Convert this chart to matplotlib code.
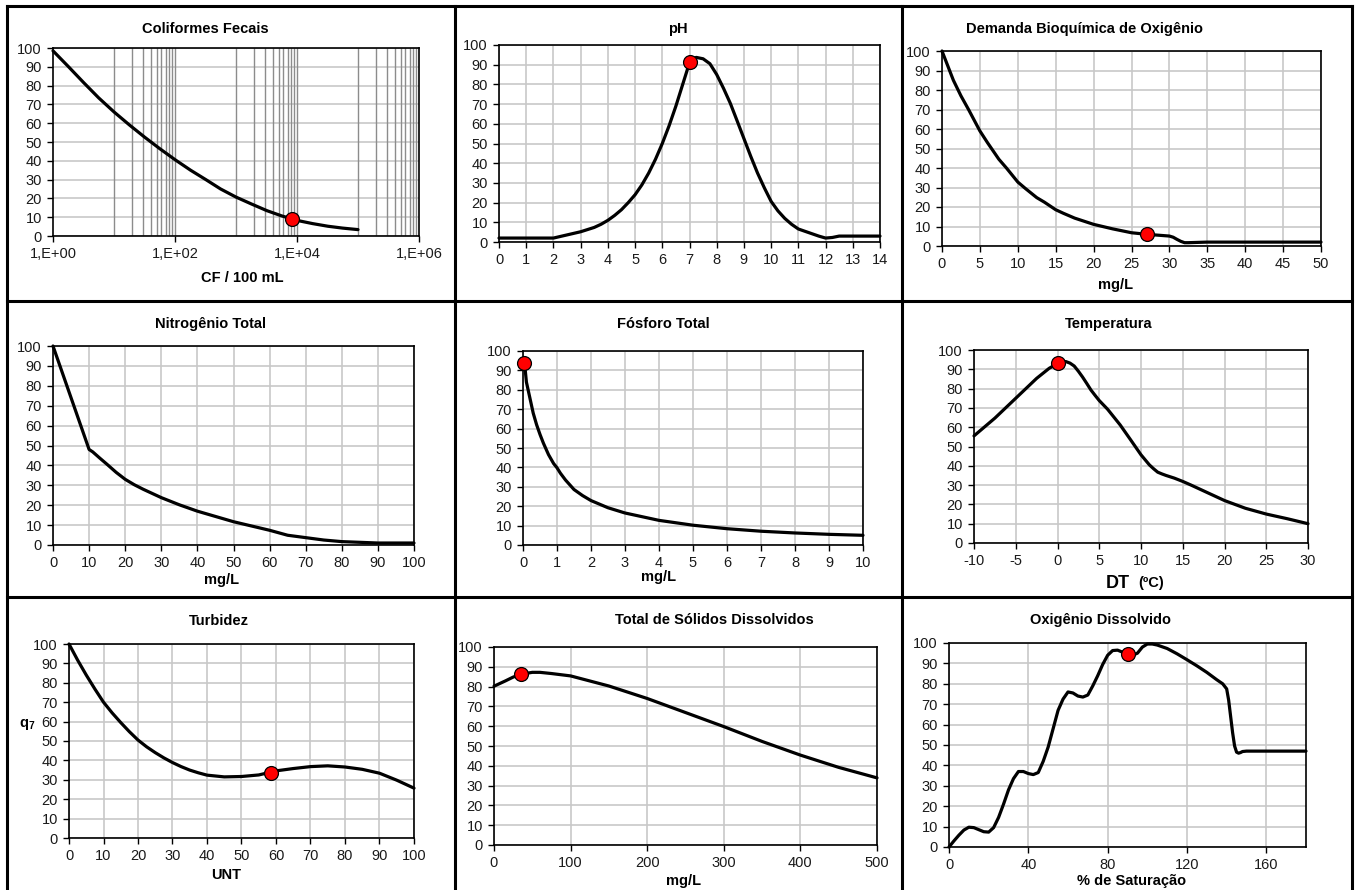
import matplotlib
matplotlib.use("Agg")
import matplotlib.pyplot as plt
from matplotlib.lines import Line2D

plt.rcParams["font.family"] = ["Liberation Sans", "DejaVu Sans"]
plt.rcParams["mathtext.fontset"] = "custom"
plt.rcParams["mathtext.rm"] = "Liberation Sans"
plt.rcParams["mathtext.bf"] = "Liberation Sans:bold"
plt.rcParams["axes.unicode_minus"] = False

W, H = 1357, 890

# ---------------------------------------------------------------------------
# data
# ---------------------------------------------------------------------------
cf_x = [1, 1.8, 3.2, 5.6, 10, 18, 32, 56, 100, 180, 320, 560, 1000, 1800, 3200, 5600,
        1e4, 1.8e4, 3.2e4, 5.6e4, 1e5]
cf_q = [98.5, 90, 81.5, 73.5, 66, 59, 52.5, 46.5, 40.6, 35, 30, 25, 20.7, 17, 13.5, 10.7,
        8.3, 6.6, 5.2, 4.2, 3.4]
cf_pt = (8300, 8.9)

ph_x = [0, 1, 2, 2.5, 3, 3.5, 3.75, 4, 4.25, 4.5, 4.75, 5, 5.25, 5.5, 5.75, 6, 6.25, 6.5,
        6.75, 7, 7.1, 7.25, 7.5, 7.75, 8, 8.25, 8.5, 8.75, 9, 9.25, 9.5, 9.75, 10, 10.25,
        10.5, 10.75, 11, 11.5, 11.75, 12, 12.25, 12.5, 13, 14]
ph_q = [2, 2, 2, 3.6, 5.2, 7.4, 9, 11, 13.5, 16.4, 20, 24, 29, 35, 42, 50, 59, 69,
        80, 91, 93, 93.7, 93, 90.5, 85, 78, 70.4, 61.5, 52.5, 43.5, 35, 27.5, 20.6, 15.8,
        12, 9, 6.6, 4.2, 3, 2, 2.3, 3, 3, 3]
ph_pt = (7.0, 91.2)

dbo_x = [0, 1, 1.5, 2.5, 3.5, 5, 6, 7.5, 8.5, 10, 11, 12.5, 13.5, 15, 16, 17.5, 20, 22.5,
         25, 27, 29, 30, 30.5, 31, 31.5, 32, 32.5, 35, 40, 45, 50]
dbo_q = [100, 90, 85, 77, 70, 59, 53, 44.5, 40, 32.8, 29.5, 24.8, 22.5, 18.6, 16.8, 14.3,
         11.1, 8.8, 6.8, 6.0, 5.4, 5.1, 4.5, 3.4, 2.4, 1.7, 1.7, 2, 2, 2, 2]
dbo_pt = (27.0, 6.0)

nt_x = [0, 5, 10, 11, 13, 15, 17.5, 20, 22.5, 25, 30, 35, 40, 50, 60, 65, 70, 75, 80, 90, 100]
nt_q = [100, 74, 48, 46.8, 43.6, 40.5, 36.5, 33, 30.3, 28, 23.8, 20.2, 17, 11.7, 7.4, 4.9,
        3.7, 2.5, 1.7, 1, 1]

pt_x = [0.05, 0.1, 0.15, 0.2, 0.3, 0.4, 0.5, 0.6, 0.75, 0.9, 1, 1.1, 1.25, 1.5, 1.75, 2,
        2.5, 3, 4, 5, 6, 7, 8, 9, 10]
pt_q = [93, 84, 80, 76, 68, 62, 57, 52.5, 46.6, 42, 39.8, 37, 33.5, 28.6, 25.5, 22.9,
        19.2, 16.5, 12.7, 10.2, 8.4, 7.1, 6.2, 5.5, 5]
pt_pt = (0.04, 93.6)

tp_x = [-10, -7.5, -5, -2.5, -1, 0, 0.5, 1, 1.5, 2, 2.5, 3, 3.5, 4, 4.5, 5, 6, 7.5, 8.75,
        10, 11, 11.5, 12, 12.5, 13, 14, 15, 16, 17.5, 20, 22.5, 25, 27.5, 30]
tp_q = [55.5, 64.7, 75, 85.3, 90.5, 93, 93.8, 94, 93.2, 91.7, 89, 86, 82.7, 79.3, 76.5,
        73.8, 69.3, 61.2, 53.5, 45.7, 40.5, 38.5, 36.7, 35.8, 35, 33.6, 31.9, 30, 27,
        22, 18, 15, 12.6, 10]
tp_pt = (0.0, 93.3)

tb_x = [0, 2.5, 5, 7.5, 10, 12.5, 15, 17.5, 20, 22.5, 25, 27.5, 30, 32.5, 35, 37.5, 40,
        45, 50, 55, 60, 65, 70, 75, 80, 85, 90, 95, 100]
tb_q = [100, 91.7, 84, 76.8, 70, 64.5, 59.5, 54.8, 50.5, 47, 44, 41.3, 38.9, 36.8, 35,
        33.6, 32.4, 31.5, 31.7, 32.5, 34.6, 35.8, 36.8, 37.2, 36.6, 35.4, 33.4, 29.8, 25.7]
tb_pt = (58.5, 33.7)

sd_x = [0, 15, 25, 35, 50, 60, 75, 100, 150, 200, 250, 300, 350, 400, 450, 500]
sd_q = [80.2, 82.9, 84.8, 86.2, 87.2, 87.2, 86.6, 85.4, 80.3, 74, 66.9, 59.8, 52.3, 45.4,
        39.2, 33.9]
sd_pt = (35, 86.2)

od_x = [0, 2.5, 5, 7.5, 10, 12.5, 15, 17.5, 20, 22.5, 25, 27.5, 30, 32.5, 35, 37.5, 40,
        42.5, 45, 47.5, 50, 52.5, 55, 57.5, 60, 62.5, 65, 67.5, 70, 72.5, 75, 77.5, 80,
        82.5, 85, 87.5, 90, 92.5, 95, 97.5, 100, 102.5, 105, 110, 115, 120, 125, 130,
        135, 138, 140, 141, 142, 143, 144, 145, 146, 147, 148, 150, 180]
od_q = [0, 3, 5.8, 8.3, 9.7, 9.5, 8.5, 7.5, 7.3, 9.5, 14.5, 21, 28, 33.5, 37, 37, 36,
        35.5, 36.5, 42, 49, 58, 67, 72.5, 76, 75.5, 74, 73.5, 74.5, 79, 84, 89.5, 94,
        96.3, 96.5, 95.5, 94.5, 94, 95, 98, 99.5, 99.5, 99, 97.3, 94.7, 91.8, 88.8, 85.6,
        82, 80, 77.5, 72, 64, 56, 49.5, 46.5, 46, 46.3, 46.8, 47, 47]
od_pt = (90, 94.5)

# ---------------------------------------------------------------------------
# layout (pixel boxes of the nine plot areas: left, right, top, bottom)
# ---------------------------------------------------------------------------
boxes = [
    (53, 419, 48, 236), (499, 880, 45, 242), (942, 1321, 51, 246),
    (53, 414, 346, 545), (523, 863, 351, 545), (974, 1308, 350, 543),
    (69, 414, 644, 838), (494, 877, 647, 845), (949, 1306, 643, 847),
]
titles = [
    ("Coliformes Fecais", 205, 29), ("pH", 678, 29),
    ("Demanda Bioquímica de Oxigênio", 1085, 29),
    ("Nitrogênio Total", 210, 324), ("Fósforo Total", 663, 324),
    ("Temperatura", 1109, 324), ("Turbidez", 219, 621),
    ("Total de Sólidos Dissolvidos", 714, 620), ("Oxigênio Dissolvido", 1101, 620),
]
xlabels = [
    ("CF / 100 mL", 242, 278), None, ("mg/L", 1116, 285),
    ("mg/L", 222, 580), ("mg/L", 659, 577), None,
    ("UNT", 226, 875), ("mg/L", 684, 881), ("% de Saturação", 1132, 881),
]

series = [
    (cf_x, cf_q, cf_pt), (ph_x, ph_q, ph_pt), (dbo_x, dbo_q, dbo_pt),
    (nt_x, nt_q, None), (pt_x, pt_q, pt_pt), (tp_x, tp_q, tp_pt),
    (tb_x, tb_q, tb_pt), (sd_x, sd_q, sd_pt), (od_x, od_q, od_pt),
]
xlims = [(1, 1e6), (0, 14), (0, 50), (0, 100), (0, 10), (-10, 30), (0, 100), (0, 500), (0, 180)]
xticks = [
    [1, 1e2, 1e4, 1e6], list(range(0, 15)), list(range(0, 51, 5)), list(range(0, 101, 10)),
    list(range(0, 11)), list(range(-10, 31, 5)), list(range(0, 101, 10)),
    list(range(0, 501, 100)), list(range(0, 161, 40)),
]

GRID = "#c8c8c8"
TICK_FS = 10.5
LBL_FS = 10.5

fig = plt.figure(figsize=(W / 100, H / 100), dpi=100)


def fx(x):
    return x / W


def fy(y):
    return 1 - y / H


for i, (l, r, t, b) in enumerate(boxes):
    ax = fig.add_axes([fx(l), fy(b), (r - l) / W, (b - t) / H])
    xs, qs, pt = series[i]
    if i == 0:
        ax.set_xscale("log")
        ax.minorticks_off()
        for d in (1, 3, 5):
            for k in range(1, 10):
                ax.axvline(k * 10 ** d, color="#8c8c8c", lw=1.0, zorder=1)
        for v in (1e2, 1e4):
            ax.axvline(v, color="#8c8c8c", lw=1.0, zorder=1)
        ax.set_xticks(xticks[i])
        ax.set_xticklabels(["1,E+00", "1,E+02", "1,E+04", "1,E+06"])
        ax.grid(axis="y", color=GRID, lw=1.2, zorder=0)
    else:
        ax.set_xticks(xticks[i])
        ax.grid(True, color=GRID, lw=1.2, zorder=0)
    ax.set_axisbelow(True)
    ax.set_xlim(*xlims[i])
    ax.set_ylim(0, 100)
    ax.set_yticks(range(0, 101, 10))
    ax.plot(xs, qs, color="black", lw=2.3, solid_joinstyle="round",
            solid_capstyle="round", zorder=3, clip_on=False)
    if pt is not None:
        ax.plot([pt[0]], [pt[1]], "o", ms=10, mfc="#ff0000", mec="black",
                mew=0.9, zorder=4, clip_on=False)
    for s in ax.spines.values():
        s.set_color("black")
        s.set_linewidth(1.2)
    ax.tick_params(labelsize=TICK_FS, length=4, width=1.0, color="black",
                   labelcolor="#1a1a1a", pad=4)

    title, tx, ty = titles[i]
    fig.text(fx(tx), fy(ty), title, ha="center", va="center",
             fontsize=LBL_FS, fontweight="bold")
    if xlabels[i] is not None:
        lab, lx, ly = xlabels[i]
        fig.text(fx(lx), fy(ly), lab, ha="center", va="center",
                 fontsize=LBL_FS, fontweight="bold")

# temperature axis label: larger "DT" followed by the unit
fig.text(fx(1118), fy(583), "DT", ha="center", va="center", fontsize=13, fontweight="bold")
fig.text(fx(1151), fy(583), "(ºC)", ha="center", va="center", fontsize=LBL_FS,
         fontweight="bold")

fig.text(fx(27), fy(724), r"$\mathbf{q_7}$", ha="center", va="center", fontsize=LBL_FS)

# panel frame lines
frame_kw = dict(color="black", lw=2.2, transform=fig.transFigure)
for x in (6.5, 455, 902, 1352):
    fig.add_artist(Line2D([fx(x), fx(x)], [fy(5.5), fy(H + 5)], **frame_kw))
for y in (5.5, 301, 597):
    fig.add_artist(Line2D([fx(6.5), fx(1352)], [fy(y), fy(y)], **frame_kw))

fig.savefig("out.png", dpi=100)
